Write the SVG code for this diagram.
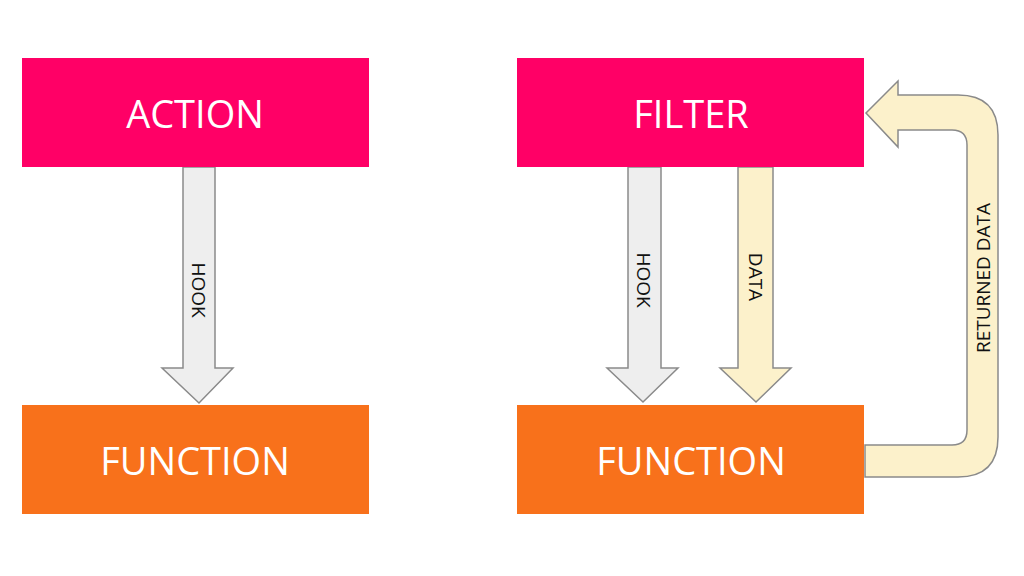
<svg xmlns="http://www.w3.org/2000/svg" width="1024" height="576" viewBox="0 0 1024 576">
<style>
.box text{font-family:"Open Sans",sans-serif;font-size:38px;fill:#fff;text-anchor:middle;dominant-baseline:central}
.pink{fill:#FF0066}.orange{fill:#F8711B}
.gray{fill:#EEEEEE;stroke:#8a8a8a;stroke-width:1.5}
.cream{fill:#FCF1CB;stroke:#8a8a8a;stroke-width:1.5}
.lbl{font-family:"Open Sans",sans-serif;font-size:19px;fill:#111;text-anchor:middle;dominant-baseline:central}
</style>
<rect width="1024" height="576" fill="#fff"/>
<g id="connectors">
<polygon class="gray" points="183,167 215,167 215,368 233,368 199,403 162,368 183,368"/>
<text class="lbl" transform="translate(199,290) rotate(90)">HOOK</text>
<polygon class="gray" points="628,167 661,167 661,368 678,368 643,402 607,368 628,368"/>
<text class="lbl" transform="translate(644,280) rotate(90)">HOOK</text>
<polygon class="cream" points="738,167 773,167 773,368 791,368 756,402 720,368 738,368"/>
<text class="lbl" transform="translate(756,277) rotate(90)">DATA</text>
<path class="cream" d="M865,445 L952,445 Q967,445 967,430 L967,145 Q967,130 952,130 L898,130 L898,147 L866,113 L898,81 L898,95 L958,95 Q998,95 998,135 L998,437 Q998,477 958,477 L865,477 Z"/>
<text class="lbl" transform="translate(983,278) rotate(-90)">RETURNED DATA</text>
</g>
<g id="action" class="box"><rect class="pink" x="22" y="58" width="347" height="109"/><text x="195" y="113">ACTION</text></g>
<g id="filter" class="box"><rect class="pink" x="517" y="58" width="347" height="109"/><text x="691" y="113">FILTER</text></g>
<g id="function1" class="box"><rect class="orange" x="22" y="405" width="347" height="109"/><text x="195" y="460">FUNCTION</text></g>
<g id="function2" class="box"><rect class="orange" x="517" y="405" width="347" height="109"/><text x="691" y="460">FUNCTION</text></g>
</svg>
